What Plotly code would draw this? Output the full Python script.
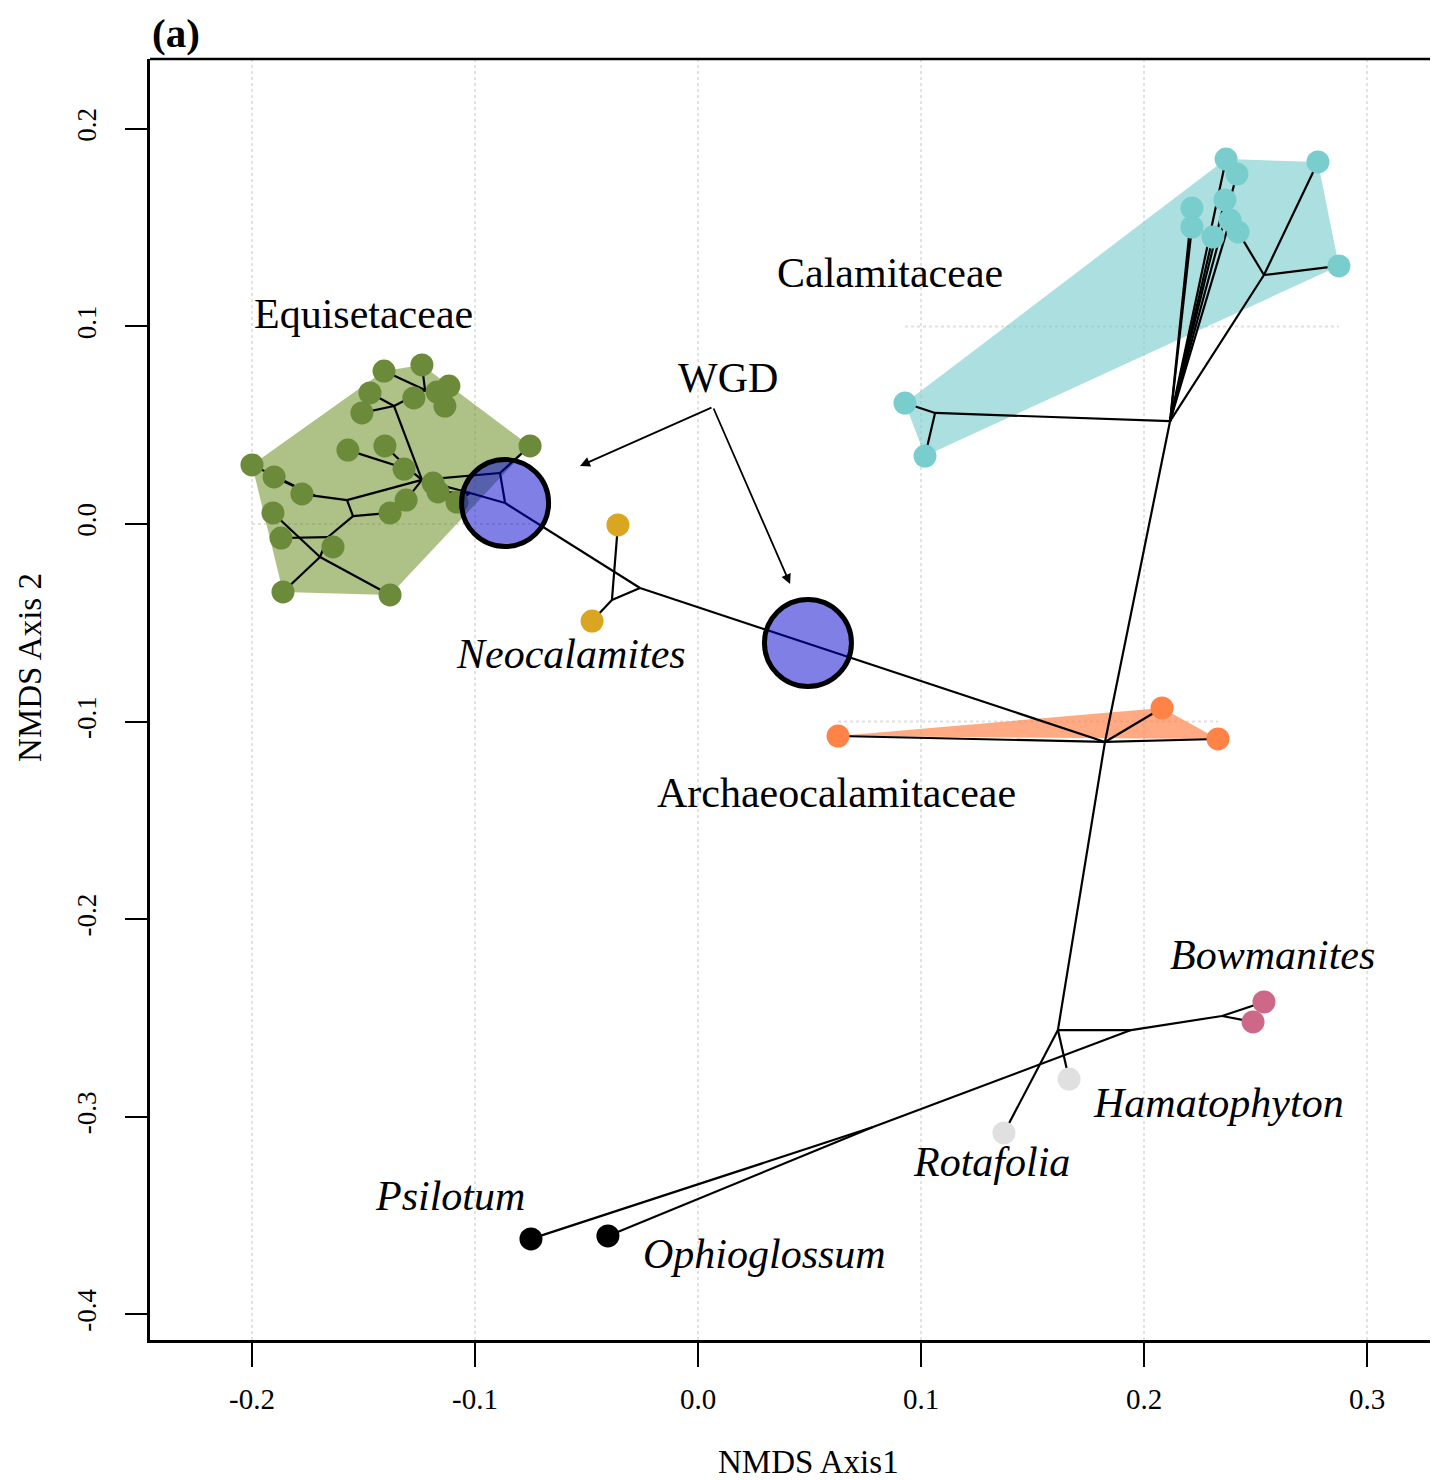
import plotly.graph_objects as go

# ---------------- data (NMDS coordinates) ----------------
equi_x = [-0.1408, -0.1238, -0.1471, -0.1507, -0.1274, -0.1170, -0.1117, -0.1135,
          -0.1570, -0.1404, -0.1318, -0.2000, -0.1901, -0.1776, -0.1188, -0.1166,
          -0.1081, -0.1309, -0.1381, -0.1906, -0.1870, -0.1637, -0.1861, -0.1381,
          -0.0753]
equi_y = [0.0774, 0.0805, 0.0663, 0.0562, 0.0638, 0.0668, 0.0698, 0.0597,
          0.0374, 0.0395, 0.0278, 0.0299, 0.0238, 0.0152, 0.0207, 0.0162,
          0.0111, 0.0121, 0.0056, 0.0056, -0.0071, -0.0116, -0.0344, -0.0359,
          0.0395]

cala_x = [0.2368, 0.2417, 0.2363, 0.2215, 0.2215, 0.2386, 0.2422, 0.2309,
          0.2780, 0.2874, 0.0928, 0.1018]
cala_y = [0.1847, 0.1771, 0.1640, 0.1599, 0.1503, 0.1538, 0.1478, 0.1452,
          0.1832, 0.1306, 0.0612, 0.0344]

arch_x = [0.0628, 0.2081, 0.2332]
arch_y = [-0.1073, -0.0931, -0.1088]

neo_x = [-0.0359, -0.0475]
neo_y = [-0.0005, -0.0491]

bow_x = [0.2538, 0.2489]
bow_y = [-0.2419, -0.2520]

hama_x, hama_y = [0.1664], [-0.2809]
rota_x, rota_y = [0.1372], [-0.3082]
psil_x, psil_y = [-0.0749], [-0.3618]
ophi_x, ophi_y = [-0.0404], [-0.3603]

wgd_x = [-0.0865, 0.0493]
wgd_y = [0.0106, -0.0602]

# internal nodes of the tree
node_names = ["E0", "Ea", "Eb", "Ec", "Ed", "Ee", "Ef", "Eg", "Ek", "Eh", "Ei", "Ej",
              "N1", "Nn", "A0", "C0", "Cl", "Cr", "B0", "B1", "Bb", "P0"]
node_x = [-0.0865, -0.0888, -0.1238, -0.1022, -0.1363, -0.1224, -0.1291, -0.1574,
          -0.1717, -0.1547, -0.1659, -0.1695,
          -0.0260, -0.0386, 0.1825, 0.2117, 0.1063, 0.2538, 0.1614, 0.1942, 0.2350, 0.0785]
node_y = [0.0106, 0.0258, 0.0223, 0.0157, 0.0597, 0.0678, 0.0273, 0.0121,
          0.0142, 0.0040, -0.0066, -0.0167,
          -0.0324, -0.0385, -0.1103, 0.0521, 0.0562, 0.1260, -0.2561, -0.2561, -0.2490, -0.3052]

tree_edges = [
    ("N1", "E0"), ("E0", "Ea"), ("Ea", "E25"), ("Ea", "Eb"), ("E0", "Ec"),
    ("Ec", "E15"), ("Ec", "E16"), ("Ec", "E17"), ("Eb", "Ed"), ("Ed", "E4"),
    ("Ed", "E3"), ("Ed", "Ee"), ("Ee", "E1"), ("Ee", "E2"), ("Ee", "E5"),
    ("Ee", "E6"), ("Ee", "E7"), ("Ee", "E8"), ("Eb", "Ef"), ("Ef", "E10"),
    ("Ef", "E9"), ("Ef", "E11"), ("Eb", "E18"), ("Eb", "Eg"), ("Eg", "Ek"),
    ("Ek", "E12"), ("Ek", "E13"), ("Ek", "E14"), ("Eg", "Eh"), ("Eh", "E19"),
    ("Eh", "Ei"), ("Ei", "E21"), ("Ei", "E22"), ("Ei", "Ej"), ("Ej", "E20"),
    ("Ej", "E23"), ("Ej", "E24"),
    ("N1", "Nn"), ("Nn", "N_1"), ("Nn", "N_2"),
    ("N1", "A0"), ("A0", "A1"), ("A0", "A2"), ("A0", "A3"),
    ("A0", "C0"), ("C0", "Cl"), ("Cl", "C11"), ("Cl", "C12"),
    ("C0", "C1"), ("C0", "C2"), ("C0", "C3"), ("C0", "C4"), ("C0", "C5"),
    ("C0", "C6"), ("C0", "C8"), ("C0", "Cr"), ("Cr", "C7"), ("Cr", "C9"), ("Cr", "C10"),
    ("A0", "B0"), ("B0", "B1"), ("B0", "HAM"), ("B0", "ROT"), ("B1", "Bb"),
    ("Bb", "BW1"), ("Bb", "BW2"), ("B1", "P0"), ("P0", "PSI"), ("P0", "OPH"),
]

labels = ["Equisetaceae", "Calamitaceae", "WGD", "<i>Neocalamites</i>",
          "Archaeocalamitaceae", "<i>Bowmanites</i>", "<i>Hamatophyton</i>",
          "<i>Rotafolia</i>", "<i>Psilotum</i>", "<i>Ophioglossum</i>"]

# ---------------- build coordinate lookup ----------------
pos = {n: (x, y) for n, x, y in zip(node_names, node_x, node_y)}
for i, (x, y) in enumerate(zip(equi_x, equi_y)):
    pos[f"E{i+1}"] = (x, y)
for i, (x, y) in enumerate(zip(cala_x, cala_y)):
    pos[f"C{i+1}"] = (x, y)
for i, (x, y) in enumerate(zip(arch_x, arch_y)):
    pos[f"A{i+1}"] = (x, y)
for i, (x, y) in enumerate(zip(neo_x, neo_y)):
    pos[f"N_{i+1}"] = (x, y)
for i, (x, y) in enumerate(zip(bow_x, bow_y)):
    pos[f"BW{i+1}"] = (x, y)
pos["HAM"] = (hama_x[0], hama_y[0])
pos["ROT"] = (rota_x[0], rota_y[0])
pos["PSI"] = (psil_x[0], psil_y[0])
pos["OPH"] = (ophi_x[0], ophi_y[0])


def convex_hull(xs, ys):
    pts = sorted(set(zip(xs, ys)))
    if len(pts) <= 2:
        return pts

    def cross(o, a, b):
        return (a[0] - o[0]) * (b[1] - o[1]) - (a[1] - o[1]) * (b[0] - o[0])

    lower, upper = [], []
    for p in pts:
        while len(lower) >= 2 and cross(lower[-2], lower[-1], p) <= 0:
            lower.pop()
        lower.append(p)
    for p in reversed(pts):
        while len(upper) >= 2 and cross(upper[-2], upper[-1], p) <= 0:
            upper.pop()
        upper.append(p)
    return lower[:-1] + upper[:-1]


FONT = "Liberation Serif, Times New Roman, serif"
fig = go.Figure()

# partial horizontal dotted guides within groups
for gx, gy_level in [(equi_x, 0.0), (cala_x, 0.1), (arch_x, -0.1)]:
    fig.add_trace(go.Scatter(x=[min(gx), max(gx)], y=[gy_level, gy_level], mode="lines",
                             line=dict(color="#E0E0E0", width=2, dash="dot"),
                             hoverinfo="skip", showlegend=False))

# hulls
hull_specs = [(equi_x, equi_y, "rgba(107,142,35,0.55)"),
              (cala_x, cala_y, "rgba(121,205,205,0.62)"),
              (arch_x, arch_y, "rgba(255,130,71,0.68)")]
for hx, hy, col in hull_specs:
    h = convex_hull(hx, hy)
    fig.add_trace(go.Scatter(x=[p[0] for p in h] + [h[0][0]], y=[p[1] for p in h] + [h[0][1]],
                             mode="lines", fill="toself", fillcolor=col,
                             line=dict(width=0, color=col), hoverinfo="skip", showlegend=False))

# tree edges
ex, ey = [], []
for a, b in tree_edges:
    ex += [pos[a][0], pos[b][0], None]
    ey += [pos[a][1], pos[b][1], None]
fig.add_trace(go.Scatter(x=ex, y=ey, mode="lines", line=dict(color="black", width=2.2),
                         hoverinfo="skip", showlegend=False))

# points
groups = [(equi_x, equi_y, "#6B8B3A"), (cala_x, cala_y, "#79CDCD"),
          (arch_x, arch_y, "#FF8247"), (neo_x, neo_y, "#DAA520"),
          (bow_x, bow_y, "#CD6889"), (hama_x, hama_y, "#E0E0E0"),
          (rota_x, rota_y, "#E0E0E0"), (psil_x, psil_y, "black"),
          (ophi_x, ophi_y, "black")]
for gx, gy, col in groups:
    fig.add_trace(go.Scatter(x=gx, y=gy, mode="markers",
                             marker=dict(size=23, color=col, line=dict(width=0)),
                             showlegend=False))

# WGD circles
fig.add_trace(go.Scatter(x=wgd_x, y=wgd_y, mode="markers",
                         marker=dict(size=87, color="rgba(0,0,205,0.5)",
                                     line=dict(color="black", width=5)),
                         showlegend=False))

# labels
label_x = [-0.1502, 0.0859, 0.0135, -0.0570, 0.0619, 0.2578, 0.2332, 0.1318, -0.1112, 0.0296]
label_y = [0.1063, 0.1270, 0.0739, -0.0658, -0.1361, -0.2181, -0.2930, -0.3229, -0.3401, -0.3694]
annotations = []
for t, x, y in zip(labels, label_x, label_y):
    annotations.append(dict(x=x, y=y, xref="x", yref="y", text=t, showarrow=False,
                            font=dict(family=FONT, size=42, color="black"),
                            xanchor="center", yanchor="middle"))

# WGD arrows
arrow_start = (0.0067, 0.0592)
arrow_ends = [(-0.0529, 0.0294), (0.0413, -0.0304)]
for x, y in arrow_ends:
    annotations.append(dict(x=x, y=y, xref="x", yref="y", ax=arrow_start[0], ay=arrow_start[1],
                            axref="x", ayref="y", text="", showarrow=True, arrowhead=2,
                            arrowsize=1.1, arrowwidth=1.8, arrowcolor="black", standoff=0,
                            startstandoff=0))

# axis titles and panel tag
annotations.append(dict(x=0.5109, y=-0.0952, xref="paper", yref="paper", text="NMDS Axis1",
                        showarrow=False, font=dict(family=FONT, size=33, color="black"),
                        xanchor="center", yanchor="middle"))
annotations.append(dict(x=-0.0932, y=0.5254, xref="paper", yref="paper", text="NMDS Axis 2",
                        showarrow=False, textangle=-90,
                        font=dict(family=FONT, size=33, color="black"),
                        xanchor="center", yanchor="middle"))
annotations.append(dict(x=0.0, y=1.0203, xref="paper", yref="paper", text="<b>(a)</b>",
                        showarrow=False, font=dict(family=FONT, size=41, color="black"),
                        xanchor="left", yanchor="middle"))

x_ticks = [-0.2, -0.1, 0.0, 0.1, 0.2, 0.3]
y_ticks = [-0.4, -0.3, -0.2, -0.1, 0.0, 0.1, 0.2]

# page body has an 8px margin, so the figure is offset by 8px
fig.update_layout(
    width=1430, height=1472,
    margin=dict(l=142, r=0, t=51, b=140),
    paper_bgcolor="white", plot_bgcolor="white",
    showlegend=False,
    annotations=annotations,
    shapes=[dict(type="line", xref="paper", yref="paper", x0=0, x1=1, y0=1, y1=1,
                 line=dict(color="black", width=2.5))],
    xaxis=dict(range=[-0.24574, 0.33184], tickvals=x_ticks,
               ticktext=[f"{v:.1f}" for v in x_ticks],
               ticks="outside", ticklen=24, tickwidth=2, tickcolor="black",
               showline=True, linewidth=2.5, linecolor="black", mirror=False,
               showgrid=True, gridcolor="#E2E2E2", gridwidth=2, griddash="dot",
               zeroline=False, ticklabelstandoff=7,
               tickfont=dict(family=FONT, size=29, color="black")),
    yaxis=dict(range=[-0.41296, 0.23532], tickvals=y_ticks,
               ticktext=[f"{v:.1f}" for v in y_ticks], tickangle=-90,
               ticks="outside", ticklen=22, tickwidth=2, tickcolor="black",
               showline=True, linewidth=2.5, linecolor="black", mirror=False,
               showgrid=False, zeroline=False, ticklabelstandoff=18,
               tickfont=dict(family=FONT, size=27, color="black")),
)

fig.write_html("out.html")
